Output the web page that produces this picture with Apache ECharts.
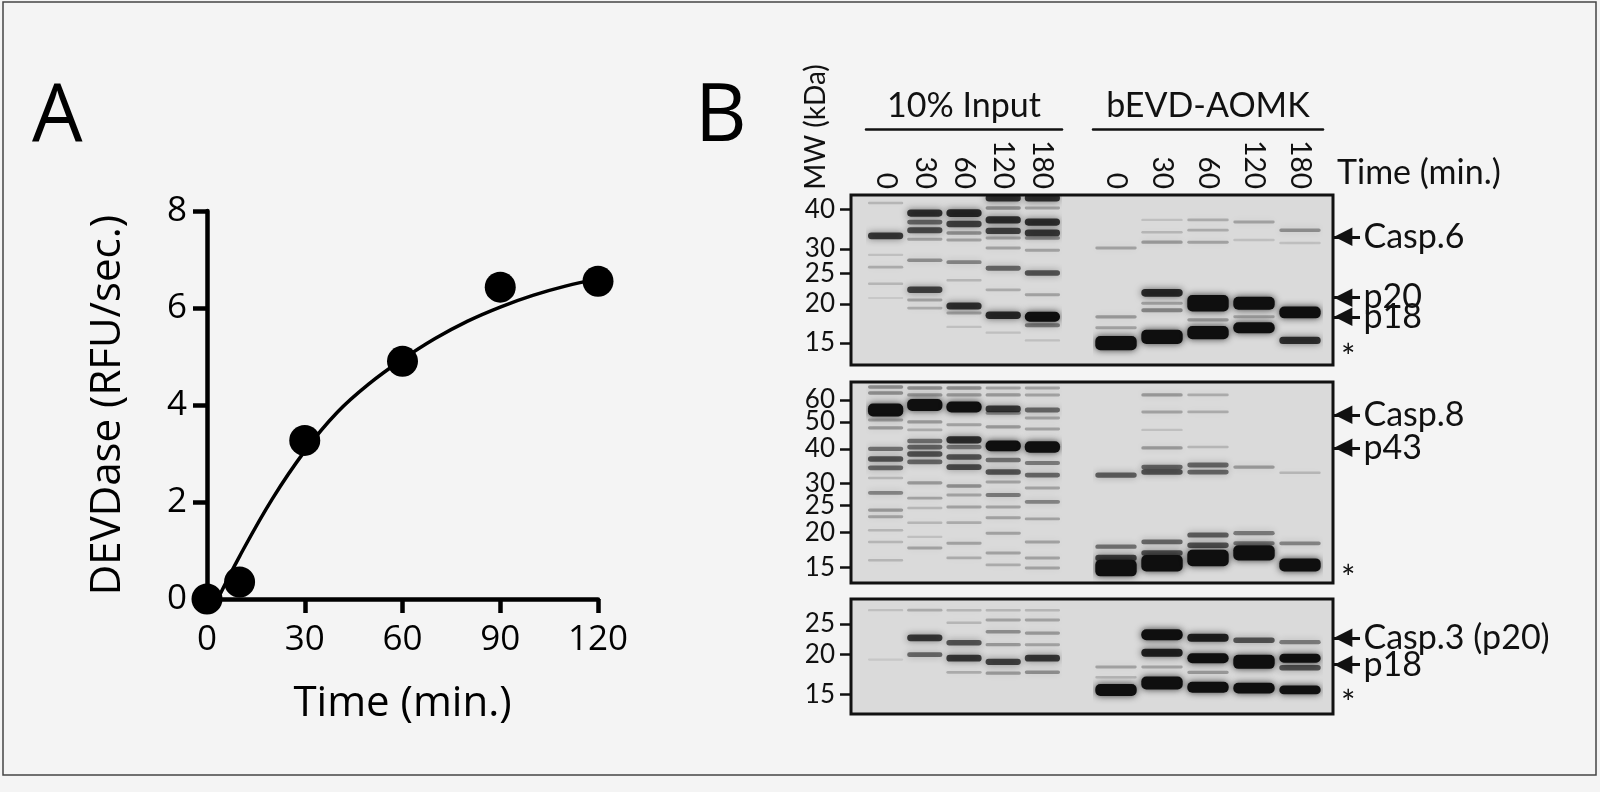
<!DOCTYPE html>
<html>
<head>
<meta charset="utf-8">
<title>DEVDase activity and caspase labeling</title>
<script src="https://cdn.jsdelivr.net/npm/echarts@6/dist/echarts.min.js"></script>
<style>
  html, body { margin: 0; padding: 0; background: #f4f4f4; }
  #chart-container { width: 1600px; height: 792px; }
</style>
</head>
<body>
<div id="chart-container"></div>
<script>
var dom = document.getElementById("chart-container");
var myChart = echarts.init(dom, null, { renderer: "canvas" });

// ---- Panel A: DEVDase activity ----
var timeMin = [0, 10, 30, 60, 90, 120];
var devdase = [0, 0.35, 3.27, 4.9, 6.43, 6.55];
// fitted curve, values
var fitTime = [3.3, 10, 20, 30, 40, 50, 60, 70, 80, 90, 100, 110, 120];
var fitValue = [0, 0.88, 2.06, 3.05, 3.85, 4.45, 4.94, 5.37, 5.73, 6.02, 6.26, 6.45, 6.6];

// ---- Panel B: blots ----
var laneTimes = ["0", "30", "60", "120", "180"];
var casp6Ladder = [40, 30, 25, 20, 15];
var casp8Ladder = [60, 50, 40, 30, 25, 20, 15];
var casp3Ladder = [25, 20, 15];

var casp6Marks = ["Casp.6", "p20", "p18"];
var casp6MarkKda = [32.7, 21.0, 18.2];
var casp8Marks = ["Casp.8", "p43"];
var casp8MarkKda = [53, 40.3];
var casp3Marks = ["Casp.3 (p20)", "p18"];
var casp3MarkKda = [22.6, 18.6];
var starKda = [14.0, 14.3, 14.6];

// bands: [lane, kDa, signal]  (signal > 1 = saturated / broad band)
var casp6Input = [
  [0, 42.0, 0.2], [0, 33.0, 0.85], [0, 28.7, 0.15], [0, 26.2, 0.25], [0, 23.2, 0.2], [0, 20.9, 0.1],
  [1, 39.0, 0.9], [1, 36.5, 0.6], [1, 34.4, 0.75], [1, 32.2, 0.3], [1, 27.6, 0.4], [1, 22.2, 0.8], [1, 20.6, 0.3], [1, 19.4, 0.25],
  [2, 39.0, 0.95], [2, 36.0, 0.8], [2, 33.7, 0.4], [2, 32.0, 0.3], [2, 27.2, 0.45], [2, 23.8, 0.2], [2, 19.7, 0.9], [2, 18.7, 0.3], [2, 16.9, 0.15],
  [3, 43.6, 0.9], [3, 40.5, 0.4], [3, 37.1, 0.9], [3, 34.2, 0.8], [3, 32.5, 0.3], [3, 30.2, 0.3], [3, 26.0, 0.6], [3, 22.2, 0.25], [3, 18.4, 0.95], [3, 16.2, 0.15],
  [4, 43.6, 0.9], [4, 40.5, 0.3], [4, 36.5, 0.9], [4, 33.7, 0.85], [4, 32.5, 0.4], [4, 29.7, 0.3], [4, 25.1, 0.7], [4, 21.4, 0.3], [4, 18.2, 1.2], [4, 17.1, 0.5], [4, 15.3, 0.15]
];
var casp6Probe = [
  [0, 30.2, 0.3], [0, 18.2, 0.35], [0, 16.8, 0.3], [0, 15.0, 1.6],
  [1, 37.1, 0.15], [1, 33.9, 0.2], [1, 31.5, 0.35], [1, 21.7, 0.95], [1, 20.1, 0.3], [1, 19.1, 0.45], [1, 15.7, 1.6],
  [2, 37.1, 0.25], [2, 34.4, 0.25], [2, 31.5, 0.3], [2, 20.1, 1.8], [2, 17.8, 0.35], [2, 16.2, 1.5],
  [3, 36.5, 0.3], [3, 32.0, 0.15], [3, 20.1, 1.5], [3, 18.2, 0.3], [3, 16.8, 1.3],
  [4, 34.4, 0.4], [4, 31.3, 0.15], [4, 18.8, 1.4], [4, 15.3, 0.9]
];
var casp8Input = [
  [0, 66.8, 0.4], [0, 63.6, 0.4], [0, 55.2, 1.5], [0, 50.8, 0.3], [0, 47.6, 0.35], [0, 40.0, 0.55], [0, 36.8, 0.7], [0, 34.2, 0.6], [0, 31.4, 0.2], [0, 27.8, 0.45], [0, 24.1, 0.35], [0, 22.8, 0.3], [0, 20.4, 0.2], [0, 18.5, 0.2], [0, 15.9, 0.2],
  [1, 66.2, 0.4], [1, 62.5, 0.35], [1, 57.5, 1.4], [1, 50.0, 0.35], [1, 46.8, 0.25], [1, 42.7, 0.55], [1, 40.6, 0.6], [1, 38.3, 0.7], [1, 35.9, 0.6], [1, 30.2, 0.35], [1, 26.6, 0.3], [1, 24.5, 0.2], [1, 21.7, 0.2], [1, 19.3, 0.15], [1, 17.6, 0.3],
  [2, 66.2, 0.4], [2, 62.5, 0.35], [2, 56.6, 1.3], [2, 48.8, 0.3], [2, 43.1, 0.9], [2, 40.6, 0.5], [2, 37.4, 0.7], [2, 34.4, 0.75], [2, 29.4, 0.4], [2, 27.3, 0.3], [2, 24.7, 0.3], [2, 21.7, 0.25], [2, 18.3, 0.3], [2, 16.2, 0.25],
  [3, 66.2, 0.3], [3, 62.5, 0.35], [3, 55.7, 0.85], [3, 53.8, 0.4], [3, 48.0, 0.35], [3, 41.0, 1.3], [3, 36.5, 0.55], [3, 33.0, 0.7], [3, 30.4, 0.3], [3, 27.3, 0.5], [3, 24.7, 0.3], [3, 22.6, 0.3], [3, 19.9, 0.3], [3, 16.9, 0.3], [3, 15.3, 0.25],
  [4, 66.2, 0.3], [4, 62.5, 0.3], [4, 55.2, 0.6], [4, 51.7, 0.3], [4, 47.2, 0.3], [4, 40.6, 1.35], [4, 35.6, 0.5], [4, 32.2, 0.6], [4, 28.9, 0.3], [4, 25.8, 0.45], [4, 22.4, 0.3], [4, 18.5, 0.3], [4, 16.2, 0.3], [4, 14.9, 0.3]
];
var casp8Probe = [
  [0, 32.2, 0.65], [0, 17.8, 0.55], [0, 16.2, 0.8], [0, 14.9, 1.8],
  [1, 62.5, 0.35], [1, 54.3, 0.3], [1, 46.8, 0.15], [1, 40.3, 0.35], [1, 34.4, 0.6], [1, 33.0, 0.7], [1, 18.5, 0.6], [1, 16.9, 0.7], [1, 15.5, 1.8],
  [2, 62.5, 0.25], [2, 54.3, 0.25], [2, 40.6, 0.2], [2, 35.0, 0.6], [2, 33.0, 0.6], [2, 19.6, 0.65], [2, 18.0, 0.7], [2, 16.2, 1.8],
  [3, 34.4, 0.35], [3, 19.9, 0.5], [3, 18.3, 0.5], [3, 16.9, 1.7],
  [4, 32.8, 0.2], [4, 18.3, 0.45], [4, 15.3, 1.5]
];
var casp3Input = [
  [0, 27.6, 0.15], [0, 19.3, 0.1],
  [1, 27.6, 0.25], [1, 22.6, 0.85], [1, 20.0, 0.6],
  [2, 27.6, 0.2], [2, 25.2, 0.2], [2, 21.8, 0.7], [2, 19.5, 0.85], [2, 17.6, 0.25],
  [3, 27.6, 0.2], [3, 25.7, 0.3], [3, 23.6, 0.4], [3, 21.5, 0.35], [3, 19.0, 0.8], [3, 17.5, 0.35],
  [4, 27.6, 0.2], [4, 25.7, 0.3], [4, 23.4, 0.35], [4, 21.5, 0.3], [4, 19.5, 0.85], [4, 17.6, 0.4]
];
var casp3Probe = [
  [0, 18.3, 0.3], [0, 17.0, 0.2], [0, 15.5, 1.4],
  [1, 23.1, 1.3], [1, 20.3, 1.0], [1, 18.3, 0.3], [1, 16.3, 1.5],
  [2, 22.6, 1.0], [2, 19.5, 1.2], [2, 17.6, 0.35], [2, 15.8, 1.3],
  [3, 22.2, 0.7], [3, 19.0, 1.6], [3, 15.7, 1.3],
  [4, 21.9, 0.5], [4, 19.5, 1.1], [4, 18.2, 0.7], [4, 15.5, 1.1]
];

var lg = function (v) { return Math.log10(v); };
var ink = "#111";
var blotFont = "Lato";
var plotFont = "Open Sans";

// one blot per row; range = kDa at top / bottom edge of the frame
var blots = [
  { ladder: casp6Ladder, marks: casp6Marks, markKda: casp6MarkKda, star: starKda[0], input: casp6Input, probe: casp6Probe, range: [44.55, 12.77], top: 195, height: 170 },
  { ladder: casp8Ladder, marks: casp8Marks, markKda: casp8MarkKda, star: starKda[1], input: casp8Input, probe: casp8Probe, range: [69.6, 13.17], top: 382, height: 201 },
  { ladder: casp3Ladder, marks: casp3Marks, markKda: casp3MarkKda, star: starKda[2], input: casp3Input, probe: casp3Probe, range: [29.93, 13.02], top: 599, height: 115 }
];

function renderBand(params, api) {
  var c = api.coord([api.value(0), api.value(1)]);
  var w = api.size([1, 0])[0] * 0.9;
  var s = api.value(2);
  var h = 2 + 6 * Math.pow(s, 1.5);
  var a = Math.min(1, s * 0.9);
  return {
    type: "rect",
    shape: { x: c[0] - w / 2, y: c[1] - h / 2, width: w, height: h, r: Math.min(h / 2, 5) },
    style: { fill: "rgba(15,15,15," + a + ")", shadowBlur: 7, shadowColor: "rgba(15,15,15," + a * 0.8 + ")" }
  };
}

var grids = [{ left: 207, top: 211, width: 391, height: 388 }];
var xAxes = [{
  gridIndex: 0, type: "value", min: 0, max: 120, interval: 30,
  axisLine: { lineStyle: { color: "#000", width: 4.5 } },
  axisTick: { show: true, length: 14, lineStyle: { color: "#000", width: 4.5 } },
  axisLabel: { fontSize: 35, margin: 24, color: "#000", fontFamily: plotFont },
  splitLine: { show: false },
  name: "Time (min.)", nameLocation: "middle", nameGap: 84,
  nameTextStyle: { fontSize: 42, color: "#000", fontFamily: plotFont }
}];
var yAxes = [{
  gridIndex: 0, type: "value", min: 0, max: 8, interval: 2,
  axisLine: { show: true, lineStyle: { color: "#000", width: 4.5 } },
  axisTick: { show: true, length: 14, lineStyle: { color: "#000", width: 4.5 } },
  axisLabel: { fontSize: 35, margin: 20, color: "#000", fontFamily: plotFont },
  splitLine: { show: false },
  name: "DEVDase (RFU/sec.)", nameLocation: "middle", nameGap: 78, nameRotate: 90,
  nameTextStyle: { fontSize: 42, color: "#000", fontFamily: plotFont }
}];
var series = [
  {
    type: "line", xAxisIndex: 0, yAxisIndex: 0,
    data: fitTime.map(function (t, i) { return [t, fitValue[i]]; }),
    smooth: 0.4, showSymbol: false, lineStyle: { color: "#000", width: 3.5 }, z: 2
  },
  {
    type: "scatter", xAxisIndex: 0, yAxisIndex: 0, clip: false,
    data: timeMin.map(function (t, i) { return [t, devdase[i]]; }),
    symbolSize: 31, itemStyle: { color: "#000", opacity: 1 }, z: 3
  }
];

var markRich = {
  h: { fontFamily: "DejaVu Sans", fontSize: 24, color: ink },
  t: { fontFamily: blotFont, fontSize: 34, color: ink, padding: [0, 0, 0, 11] },
  s: { fontFamily: blotFont, fontSize: 34, color: ink, padding: [12, 0, 0, 7] }
};

blots.forEach(function (b, k) {
  var yMin = lg(b.range[1]), yMax = lg(b.range[0]);
  var frameGrid = grids.length;
  grids.push({ left: 851, top: b.top, width: 482, height: b.height, show: true,
    backgroundColor: "#dadada", borderColor: ink, borderWidth: 3 });
  grids.push({ left: 866, top: b.top, width: 196, height: b.height });
  grids.push({ left: 1093, top: b.top, width: 230, height: b.height });

  xAxes.push({ gridIndex: frameGrid, type: "value", min: 0, max: 1, show: false });

  // MW ladder on the left, split over two axes so that close labels are never dropped
  [0, 1].forEach(function (p) {
    var vals = b.ladder.filter(function (v, i) { return i % 2 === p; }).map(lg);
    if (!vals.length) return;
    yAxes.push({
      gridIndex: frameGrid, type: "value", position: "left", min: yMin, max: yMax,
      axisLine: { show: false },
      axisTick: { show: true, customValues: vals, length: 11, lineStyle: { color: ink, width: 2.5 } },
      axisLabel: { customValues: vals, margin: 16, fontSize: 26, color: ink, fontFamily: blotFont,
        formatter: function (v) { return String(Math.round(Math.pow(10, v))); } },
      splitLine: { show: false }
    });
  });

  // arrows and names on the right, one axis per label
  b.marks.concat(["*"]).forEach(function (name, i) {
    var isStar = i === b.marks.length;
    var v = lg(isStar ? b.star : b.markKda[i]);
    yAxes.push({
      gridIndex: frameGrid, type: "value", position: "right", min: yMin, max: yMax,
      axisLine: { show: false },
      axisTick: { show: !isStar, customValues: [v], length: 27, lineStyle: { color: ink, width: 3 } },
      axisLabel: {
        customValues: [v], margin: 1, rich: markRich,
        formatter: function () { return isStar ? "{s|*}" : "{h|◀}{t|" + name + "}"; }
      },
      splitLine: { show: false }
    });
  });

  // lane grids
  [b.input, b.probe].forEach(function (bands, j) {
    var g = frameGrid + 1 + j;
    var xi = xAxes.length, yi = yAxes.length;
    xAxes.push({
      gridIndex: g, type: "category", data: laneTimes, position: "top",
      axisLine: { show: false }, axisTick: { show: false },
      axisLabel: { show: k === 0, interval: 0, rotate: 90, margin: 6, fontSize: 28, color: ink, fontFamily: blotFont }
    });
    yAxes.push({ gridIndex: g, type: "value", min: yMin, max: yMax, show: false });
    if (k === 0) {
      // group heading with its underline
      xAxes.push({
        gridIndex: g, type: "category", data: laneTimes, position: "top", offset: 66,
        axisLine: { show: true, lineStyle: { color: ink, width: 2.5 } },
        axisTick: { show: false }, axisLabel: { show: false },
        name: j === 0 ? "10% Input" : "bEVD-AOMK", nameLocation: "middle", nameGap: 6,
        nameTextStyle: { fontSize: 34, color: ink, fontFamily: blotFont }
      });
    }
    series.push({
      type: "custom", xAxisIndex: xi, yAxisIndex: yi, clip: true,
      renderItem: renderBand,
      data: bands.map(function (d) { return [d[0], lg(d[1]), d[2]]; }),
      z: 3
    });
  });
});

option = {
  backgroundColor: "#f4f4f4",
  animation: false,
  grid: grids,
  xAxis: xAxes,
  yAxis: yAxes,
  series: series,
  graphic: [
    { type: "rect", silent: true, shape: { x: 3, y: 2, width: 1593, height: 773 },
      style: { fill: "none", stroke: "#444", lineWidth: 1.5 } },
    { type: "text", x: 32, y: 118, style: { text: "A", fontSize: 80, fontFamily: plotFont, fill: "#000", align: "left", verticalAlign: "middle" } },
    { type: "text", x: 695, y: 118, style: { text: "B", fontSize: 80, fontFamily: plotFont, fill: "#000", align: "left", verticalAlign: "middle" } },
    { type: "text", x: 816, y: 127, rotation: Math.PI / 2, style: { text: "MW (kDa)", fontSize: 28, fontFamily: blotFont, fill: ink, align: "center", verticalAlign: "middle" } },
    { type: "text", x: 1337, y: 173, style: { text: "Time (min.)", fontSize: 34, fontFamily: blotFont, fill: ink, align: "left", verticalAlign: "middle" } }
  ]
};

myChart.setOption(option);

window.addEventListener("resize", function () {
  myChart.resize();
});
</script>
</body>
</html>
